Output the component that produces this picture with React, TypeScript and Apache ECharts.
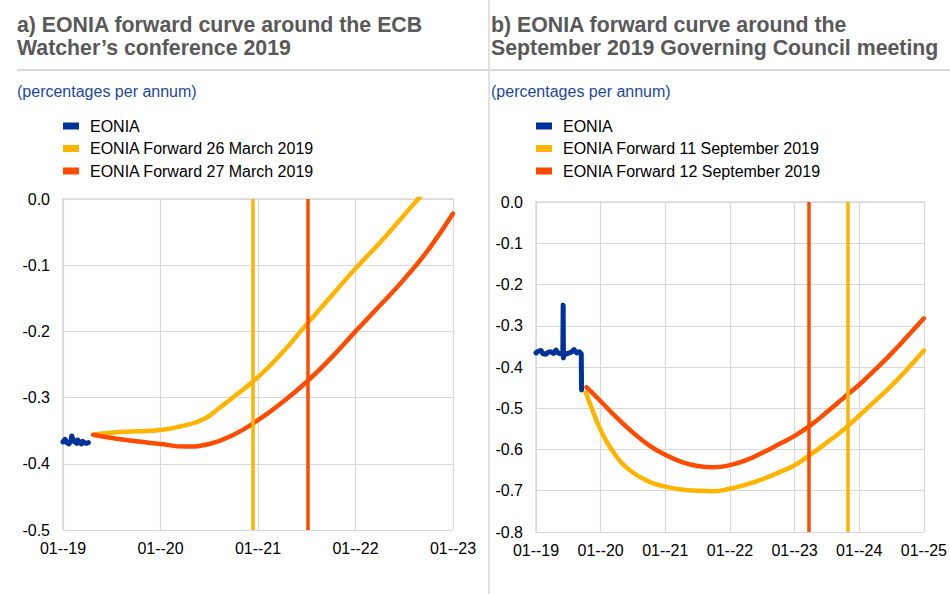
import React, { useEffect, useRef } from "react";
import * as echarts from "echarts";

// ---------- Panel a) ----------
const ticksA = ["01--19", "01--20", "01--21", "01--22", "01--23"];
const eoniaAx = [2019.0, 2019.02, 2019.04, 2019.06, 2019.08, 2019.09, 2019.1, 2019.12, 2019.14, 2019.15, 2019.17, 2019.19, 2019.2, 2019.22, 2019.24, 2019.26];
const eoniaAy = [-0.367, -0.363, -0.368, -0.37, -0.366, -0.358, -0.362, -0.367, -0.369, -0.364, -0.368, -0.37, -0.366, -0.368, -0.369, -0.368];
const fwd26x = [2019.31, 2019.5, 2019.75, 2020.0, 2020.25, 2020.45, 2020.6, 2020.75, 2021.0, 2021.25, 2021.5, 2021.75, 2022.0, 2022.25, 2022.5, 2022.75];
const fwd26y = [-0.356, -0.353, -0.351, -0.349, -0.342, -0.332, -0.316, -0.299, -0.269, -0.232, -0.189, -0.147, -0.105, -0.066, -0.024, 0.018];
const fwd27x = [2019.31, 2019.5, 2019.75, 2020.0, 2020.25, 2020.5, 2020.75, 2021.0, 2021.25, 2021.5, 2021.75, 2022.0, 2022.25, 2022.5, 2022.75, 2023.0];
const fwd27y = [-0.356, -0.361, -0.366, -0.37, -0.374, -0.37, -0.356, -0.334, -0.307, -0.276, -0.24, -0.2, -0.161, -0.121, -0.076, -0.022];
const markA26 = [2020.95];
const markA27 = [2021.51];

// ---------- Panel b) ----------
const ticksB = ["01--19", "01--20", "01--21", "01--22", "01--23", "01--24", "01--25"];
const eoniaBx = [2019.0, 2019.03, 2019.077, 2019.11, 2019.154, 2019.19, 2019.23, 2019.27, 2019.31, 2019.34, 2019.38, 2019.415, 2019.42, 2019.425, 2019.43, 2019.46, 2019.49, 2019.53, 2019.56, 2019.59, 2019.63, 2019.67, 2019.7, 2019.705];
const eoniaBy = [-0.366, -0.362, -0.36, -0.368, -0.369, -0.364, -0.363, -0.367, -0.359, -0.366, -0.368, -0.367, -0.25, -0.378, -0.367, -0.369, -0.367, -0.365, -0.362, -0.358, -0.366, -0.363, -0.368, -0.456];
const fwd11x = [2019.77, 2019.85, 2020.0, 2020.2, 2020.45, 2020.75, 2021.0, 2021.25, 2021.5, 2021.75, 2022.0, 2022.25, 2022.5, 2022.75, 2023.0, 2023.25, 2023.5, 2023.75, 2024.0, 2024.25, 2024.5, 2024.75, 2025.0];
const fwd11y = [-0.462, -0.495, -0.553, -0.607, -0.65, -0.678, -0.69, -0.697, -0.7, -0.701, -0.695, -0.685, -0.672, -0.656, -0.638, -0.612, -0.583, -0.553, -0.518, -0.482, -0.445, -0.404, -0.36];
const fwd12x = [2019.78, 2020.0, 2020.25, 2020.5, 2020.75, 2021.0, 2021.25, 2021.5, 2021.75, 2022.0, 2022.25, 2022.5, 2022.75, 2023.0, 2023.25, 2023.5, 2023.75, 2024.0, 2024.25, 2024.5, 2024.75, 2025.0];
const fwd12y = [-0.449, -0.483, -0.523, -0.559, -0.59, -0.613, -0.63, -0.64, -0.643, -0.638, -0.626, -0.608, -0.588, -0.567, -0.541, -0.509, -0.476, -0.443, -0.406, -0.367, -0.325, -0.282];
const markB11 = [2023.82];
const markB12 = [2023.22];

const BLUE = "#003299";
const YELLOW = "#FFB400";
const ORANGE = "#FF4B00";
const GRID = "#d9d9d9";
const FONT = '"Liberation Sans", Arial, sans-serif';

const zip = (xs: number[], ys: number[]) => xs.map((x, i) => [x, ys[i]]);

function xAxisFor(gridIndex: number, start: number, labels: string[]) {
  return {
    type: "value",
    gridIndex,
    min: start,
    max: start + labels.length - 1,
    interval: 1,
    axisLine: { show: true, lineStyle: { color: GRID, width: 1.5 } },
    axisTick: { show: false },
    splitLine: { show: true, lineStyle: { color: GRID, width: 1.2 } },
    axisLabel: {
      color: "#000",
      fontSize: 16,
      fontFamily: FONT,
      margin: 10,
      formatter: (v: number) => labels[Math.round(v - start)] ?? "",
    },
  };
}

function yAxisFor(gridIndex: number, min: number) {
  return {
    type: "value",
    gridIndex,
    min,
    max: 0,
    interval: 0.1,
    axisLine: { show: true, lineStyle: { color: GRID, width: 1.5 } },
    axisTick: { show: false },
    splitLine: { show: true, lineStyle: { color: GRID, width: 1.2 } },
    axisLabel: {
      color: "#000",
      fontSize: 16,
      fontFamily: FONT,
      margin: 13,
      formatter: (v: number) => v.toFixed(1),
    },
  };
}

function curve(name: string, color: string, data: number[][], axis: number, marks: number[], markWidth: number) {
  return {
    name,
    type: "line",
    xAxisIndex: axis,
    yAxisIndex: axis,
    data,
    smooth: 0.5,
    showSymbol: false,
    symbol: "none",
    lineStyle: { color, width: 4.5, cap: "round", join: "round" },
    itemStyle: { color },
    markLine: {
      silent: true,
      symbol: "none",
      label: { show: false },
      lineStyle: { color, width: markWidth, type: "solid" },
      data: marks.map((m) => ({ xAxis: m })),
    },
  };
}

function eonia(data: number[][], axis: number) {
  return {
    name: "EONIA",
    type: "line",
    xAxisIndex: axis,
    yAxisIndex: axis,
    data,
    showSymbol: false,
    symbol: "none",
    lineStyle: { color: BLUE, width: 5, cap: "round", join: "round" },
    itemStyle: { color: BLUE },
  };
}

function legendFor(left: number, names: string[]) {
  return {
    orient: "vertical",
    left,
    top: 118,
    padding: 0,
    itemGap: 6.5,
    itemWidth: 16,
    itemHeight: 7,
    icon: "rect",
    selectedMode: false,
    textStyle: { fontSize: 16, fontFamily: FONT, color: "#000", lineHeight: 16, padding: [0, 0, 0, 6] },
    data: names,
  };
}

export default function App() {
  const ref = useRef<HTMLDivElement>(null);
  useEffect(() => {
    if (!ref.current) return;
    const chart = echarts.init(ref.current, undefined, { renderer: "svg" });
    const titleStyle = { fontSize: 21.3, fontWeight: "bold", color: "#595959", lineHeight: 23.5, fontFamily: FONT };
    const subStyle = { fontSize: 16, fontWeight: "normal", color: "#1c47a3", lineHeight: 16, fontFamily: FONT };
    chart.setOption({
      animation: false,
      backgroundColor: "#fff",
      title: [
        { text: "a) EONIA forward curve around the ECB\nWatcher\u2019s conference 2019", left: 17, top: 13, padding: 0, textStyle: titleStyle },
        { text: "b) EONIA forward curve around the\nSeptember 2019 Governing Council meeting", left: 491, top: 13, padding: 0, textStyle: titleStyle },
        { text: "(percentages per annum)", left: 17, top: 83, padding: 0, textStyle: subStyle },
        { text: "(percentages per annum)", left: 491, top: 83, padding: 0, textStyle: subStyle },
      ],
      graphic: [
        { type: "line", shape: { x1: 17, y1: 70, x2: 950, y2: 70 }, style: { stroke: GRID, lineWidth: 2 } },
        { type: "line", shape: { x1: 489, y1: 0, x2: 489, y2: 594 }, style: { stroke: GRID, lineWidth: 1.5 } },
      ],
      legend: [
        legendFor(63, ["EONIA", "EONIA Forward 26 March 2019", "EONIA Forward 27 March 2019"]),
        legendFor(536, ["EONIA", "EONIA Forward 11 September 2019", "EONIA Forward 12 September 2019"]),
      ],
      grid: [
        { left: 63, top: 199, width: 390, height: 331 },
        { left: 536, top: 202, width: 390, height: 330 },
      ],
      xAxis: [xAxisFor(0, 2019, ticksA), xAxisFor(1, 2019, ticksB)],
      yAxis: [yAxisFor(0, -0.5), yAxisFor(1, -0.8)],
      series: [
        eonia(zip(eoniaAx, eoniaAy), 0),
        curve("EONIA Forward 26 March 2019", YELLOW, zip(fwd26x, fwd26y), 0, markA26, 3.5),
        curve("EONIA Forward 27 March 2019", ORANGE, zip(fwd27x, fwd27y), 0, markA27, 3.5),
        eonia(zip(eoniaBx, eoniaBy), 1),
        curve("EONIA Forward 11 September 2019", YELLOW, zip(fwd11x, fwd11y), 1, markB11, 3.5),
        curve("EONIA Forward 12 September 2019", ORANGE, zip(fwd12x, fwd12y), 1, markB12, 3.5),
      ],
    });
    return () => chart.dispose();
  }, []);
  return <div ref={ref} style={{ position: "fixed", left: 0, top: 0, width: 950, height: 594 }} />;
}
